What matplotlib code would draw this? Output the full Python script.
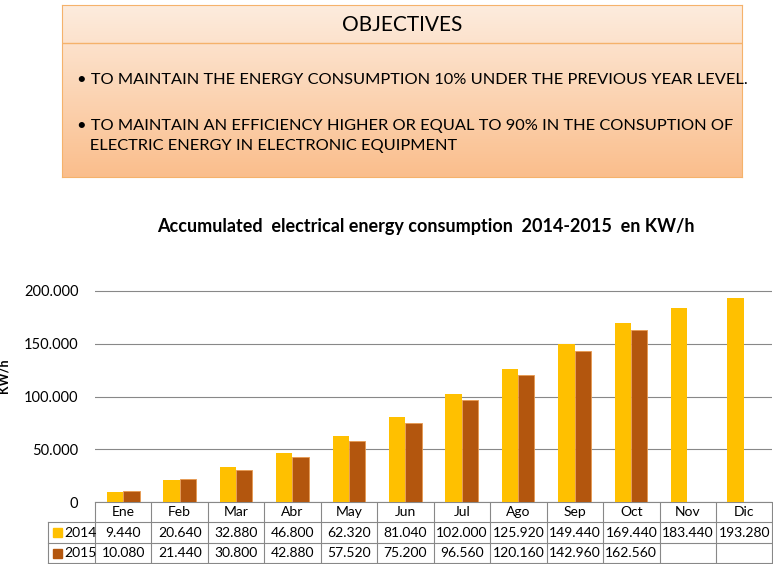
import numpy as np
import matplotlib.pyplot as plt
from matplotlib.patches import Rectangle
from matplotlib.ticker import FuncFormatter

months = ["Ene", "Feb", "Mar", "Abr", "May", "Jun", "Jul", "Ago", "Sep", "Oct", "Nov", "Dic"]
y2014 = [9440, 20640, 32880, 46800, 62320, 81040, 102000, 125920, 149440, 169440, 183440, 193280]
y2015 = [10080, 21440, 30800, 42880, 57520, 75200, 96560, 120160, 142960, 162560]
c2014, c2015 = "#FFC000", "#B3560E"

W, H = 773, 564
plt.rcParams["font.family"] = ["Lato", "DejaVu Sans"]
fig = plt.figure(figsize=(W / 100, H / 100), dpi=100)


def fax(x0, y0, x1, y1):
    return fig.add_axes([x0 / W, 1 - y1 / H, (x1 - x0) / W, (y1 - y0) / H])


# objectives box with vertical gradient
bx = fax(62, 5, 742, 177)
grad = np.linspace(0, 1, 256)[:, None]
top, bot = np.array([253, 236, 222]) / 255, np.array([250, 190, 140]) / 255
img = top + (bot - top) * grad[..., None]
bx.imshow(np.repeat(img, 2, axis=1), aspect="auto", extent=[0, 1, 0, 1])
bx.set_xticks([]); bx.set_yticks([])
for s in bx.spines.values():
    s.set_color("#F5B26B")
bx.axhline(1 - 38 / 172, color="#F5B26B", lw=1)
bx.text(0.5, 1 - 20 / 172, "OBJECTIVES", ha="center", va="center", fontsize=15)
bx.text(0.022, 1 - 75 / 172, "• TO MAINTAIN THE ENERGY CONSUMPTION 10% UNDER THE PREVIOUS YEAR LEVEL.",
        va="center", fontsize=11.8)
bx.text(0.022, 1 - 131 / 172, "• TO MAINTAIN AN EFFICIENCY HIGHER OR EQUAL TO 90% IN THE CONSUPTION OF\n   ELECTRIC ENERGY IN ELECTRONIC EQUIPMENT",
        va="center", fontsize=11.8, linespacing=1.5)

fig.text(426 / W, 1 - 226 / H, "Accumulated  electrical energy consumption  2014-2015  en KW/h",
         ha="center", va="center", fontsize=13, fontweight="bold")

# chart
ax = fax(95, 250, 772, 502)
x = np.arange(len(months))
w = 0.29
ax.bar(x - w / 2, y2014, w, color=c2014, zorder=3)
ax.bar(np.arange(len(y2015)) + w / 2, y2015, w, color=c2015, edgecolor="#E89A50", lw=0.6, zorder=3)
ax.set_xlim(-0.5, 11.5)
ax.set_ylim(0, 200000 * 252 / 211)
ax.set_yticks(range(0, 200001, 50000))
ax.yaxis.set_major_formatter(FuncFormatter(lambda v, p: "0" if v == 0 else f"{int(v):,}".replace(",", ".")))
ax.grid(axis="y", color="#888888", lw=0.8, zorder=0)
ax.set_xticks([])
ax.tick_params(axis="y", length=0, labelsize=10.5, pad=12)
for s in ["top", "right", "left"]:
    ax.spines[s].set_visible(False)
ax.spines["bottom"].set_color("#888888")
ax.set_ylabel("KW/h", fontsize=9, fontweight="bold", labelpad=10)

# data table
tx = fax(0, 502, W, 564)
tx.set_xlim(0, W); tx.set_ylim(564, 502); tx.axis("off")
cw = 56.45
lc = "#888888"
for i in range(13):
    xx = 95 + i * cw
    tx.plot([xx, xx], [502, 563], color=lc, lw=0.8)
tx.plot([48, 48], [522, 563], color=lc, lw=0.8)
tx.plot([48, 773], [522, 522], color=lc, lw=0.8)
tx.plot([48, 773], [543, 543], color=lc, lw=0.8)
tx.plot([48, 773], [563, 563], color=lc, lw=0.8)
for i, m in enumerate(months):
    cx = 95 + (i + 0.5) * cw
    tx.text(cx, 512, m, ha="center", va="center", fontsize=10)
    tx.text(cx, 532.5, f"{y2014[i]:,}".replace(",", "."), ha="center", va="center", fontsize=10)
    if i < len(y2015):
        tx.text(cx, 553, f"{y2015[i]:,}".replace(",", "."), ha="center", va="center", fontsize=10)
for yy, lab, col in [(532.5, "2014", c2014), (553, "2015", c2015)]:
    tx.add_patch(Rectangle((53, yy - 4.5), 9, 9, color=col))
    tx.text(64, yy, lab, va="center", fontsize=10)

fig.savefig("out.png", dpi=100)
